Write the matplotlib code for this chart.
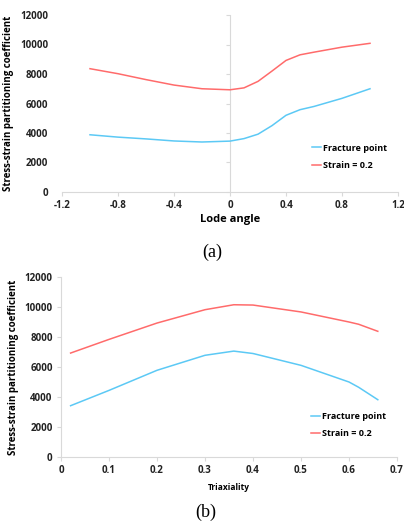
import numpy as np
import matplotlib
matplotlib.use("Agg")
import matplotlib.pyplot as plt

plt.rcParams['font.family'] = ['Open Sans', 'DejaVu Sans']
plt.rcParams['font.weight'] = 'bold'
plt.rcParams['axes.labelweight'] = 'bold'

#Data (a): Lode angle
lode = [-1.0, -0.8, -0.6, -0.4, -0.2, 0.0, 0.1, 0.2, 0.3, 0.4, 0.5, 0.6, 0.8, 1.0]
lode_fracture = [3880, 3720, 3600, 3460, 3390, 3450, 3620, 3920, 4500, 5200, 5580, 5800, 6350, 7000]
lode_strain = [8360, 8020, 7620, 7250, 7000, 6930, 7060, 7500, 8200, 8920, 9300, 9480, 9820, 10080]

#Data (b): Triaxiality
triax = [0.02, 0.1, 0.2, 0.3, 0.36, 0.4, 0.5, 0.6, 0.62, 0.66]
tri_fracture = [3420, 4440, 5780, 6780, 7060, 6900, 6110, 5000, 4650, 3820]
tri_strain = [6930, 7840, 8930, 9820, 10150, 10130, 9670, 9000, 8850, 8380]

red = "#FF6B6B"
blue = "#5CC9F5"
grey = "#D9D9D9"

fig = plt.figure(figsize=(4.04, 5.24), dpi=100)

#Top chart
ax1 = fig.add_axes([62/404, 1-192/524, 336/404, 177/524])
ax1.axvline(0, color=grey, lw=0.8, zorder=0)
ax1.plot(lode, lode_fracture, color=blue, lw=1.1, label="Fracture point")
ax1.plot(lode, lode_strain, color=red, lw=1.1, label="Strain = 0.2")
ax1.set_xlim(-1.2, 1.2)
ax1.set_ylim(0, 12000)
ax1.set_xticks(np.arange(-1.2, 1.21, 0.4))
ax1.set_xticklabels(["-1.2", "-0.8", "-0.4", "0", "0.4", "0.8", "1.2"])
ax1.set_yticks(range(0, 12001, 2000))
for s in ["top", "right", "left"]:
    ax1.spines[s].set_visible(False)
ax1.spines["bottom"].set_color(grey)
ax1.tick_params(axis="y", length=0, labelsize=7, pad=10, labelcolor="#222222")
ax1.tick_params(axis="x", length=3, color=grey, labelsize=7, pad=3, labelcolor="#222222")
sec = ax1.secondary_yaxis(0.5)
sec.set_yticks(range(0, 12001, 2000))
sec.tick_params(axis="y", direction="out", length=3, color=grey, labelleft=False, labelright=False, left=True, right=False)
for s in sec.spines.values():
    s.set_visible(False)
ax1.set_xlabel("Lode angle", fontsize=8, labelpad=2)
ax1.set_ylabel("Stress-strain partitioning coefficient", fontsize=7, labelpad=4)
ax1.legend(loc="lower right", bbox_to_anchor=(0.99, 0.08), frameon=False, fontsize=6.5,
           handlelength=1.0, handletextpad=0.2, labelspacing=0.9)
fig.text(212/404, 1-252/524, "(a)", family="Liberation Serif", fontweight="normal",
         fontsize=13, ha="center", va="center")

#Bottom chart
ax2 = fig.add_axes([61/404, 1-457/524, 336/404, 180/524])
ax2.plot(triax, tri_fracture, color=blue, lw=1.1, label="Fracture point")
ax2.plot(triax, tri_strain, color=red, lw=1.1, label="Strain = 0.2")
ax2.set_xlim(0, 0.7)
ax2.set_ylim(0, 12000)
ax2.set_xticks(np.arange(0, 0.71, 0.1))
ax2.set_xticklabels(["0", "0.1", "0.2", "0.3", "0.4", "0.5", "0.6", "0.7"])
ax2.set_yticks(range(0, 12001, 2000))
for s in ["top", "right"]:
    ax2.spines[s].set_visible(False)
ax2.spines["bottom"].set_color(grey)
ax2.spines["left"].set_color(grey)
ax2.tick_params(axis="both", length=3, color=grey, labelsize=7, pad=3, labelcolor="#222222")
ax2.set_xlabel("Triaxiality", fontsize=6, labelpad=5)
ax2.set_ylabel("Stress-strain partitioning coefficient", fontsize=7, labelpad=4)
ax2.legend(loc="lower right", bbox_to_anchor=(0.99, 0.06), frameon=False, fontsize=6.5,
           handlelength=1.0, handletextpad=0.2, labelspacing=0.9)
fig.text(206/404, 1-512/524, "(b)", family="Liberation Serif", fontweight="normal",
         fontsize=13, ha="center", va="center")

for ax in (ax1, ax2):
    for lab in ax.get_xticklabels() + ax.get_yticklabels():
        lab.set_fontweight("bold")

fig.savefig("out.png", dpi=100)
